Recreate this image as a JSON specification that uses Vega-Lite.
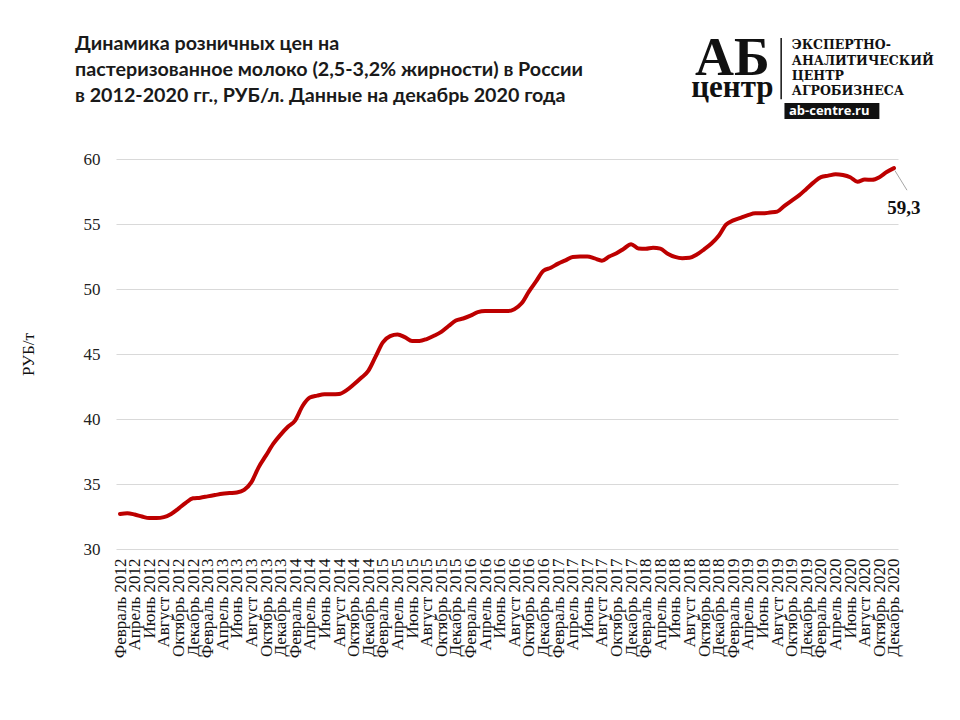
{
  "$schema": "https://vega.github.io/schema/vega-lite/v6.json",
  "autosize": "none",
  "width": 782,
  "height": 390,
  "padding": {"left": 116, "top": 159, "right": 62, "bottom": 171},
  "background": "white",
  "config": {"view": {"stroke": null}},
  "title": {
    "text": ["Динамика розничных цен на", "пастеризованное  молоко (2,5-3,2% жирности) в России", "в 2012-2020 гг., РУБ/л. Данные на декабрь 2020 года"],
    "anchor": "start",
    "frame": "group",
    "dx": -41,
    "offset": -74,
    "font": "Lato",
    "fontSize": 19.7,
    "fontWeight": "bold",
    "lineHeight": 26,
    "color": "#1a1a1a"
  },
  "data": {"values": [
    {"m": "2012-02", "v": 32.7}, {"m": "2012-03", "v": 32.75}, {"m": "2012-04", "v": 32.65}, {"m": "2012-05", "v": 32.5},
    {"m": "2012-06", "v": 32.38}, {"m": "2012-07", "v": 32.38}, {"m": "2012-08", "v": 32.45}, {"m": "2012-09", "v": 32.7},
    {"m": "2012-10", "v": 33.1}, {"m": "2012-11", "v": 33.55}, {"m": "2012-12", "v": 33.9}, {"m": "2013-01", "v": 33.95},
    {"m": "2013-02", "v": 34.05}, {"m": "2013-03", "v": 34.15}, {"m": "2013-04", "v": 34.25}, {"m": "2013-05", "v": 34.3},
    {"m": "2013-06", "v": 34.35}, {"m": "2013-07", "v": 34.55}, {"m": "2013-08", "v": 35.15}, {"m": "2013-09", "v": 36.3},
    {"m": "2013-10", "v": 37.2}, {"m": "2013-11", "v": 38.1}, {"m": "2013-12", "v": 38.8}, {"m": "2014-01", "v": 39.4},
    {"m": "2014-02", "v": 39.9}, {"m": "2014-03", "v": 41.0}, {"m": "2014-04", "v": 41.65}, {"m": "2014-05", "v": 41.8},
    {"m": "2014-06", "v": 41.9}, {"m": "2014-07", "v": 41.9}, {"m": "2014-08", "v": 41.92}, {"m": "2014-09", "v": 42.2},
    {"m": "2014-10", "v": 42.65}, {"m": "2014-11", "v": 43.15}, {"m": "2014-12", "v": 43.7}, {"m": "2015-01", "v": 44.8},
    {"m": "2015-02", "v": 45.9}, {"m": "2015-03", "v": 46.38}, {"m": "2015-04", "v": 46.5}, {"m": "2015-05", "v": 46.3},
    {"m": "2015-06", "v": 46.0}, {"m": "2015-07", "v": 46.0}, {"m": "2015-08", "v": 46.15}, {"m": "2015-09", "v": 46.4},
    {"m": "2015-10", "v": 46.7}, {"m": "2015-11", "v": 47.15}, {"m": "2015-12", "v": 47.58}, {"m": "2016-01", "v": 47.73},
    {"m": "2016-02", "v": 47.95}, {"m": "2016-03", "v": 48.22}, {"m": "2016-04", "v": 48.3}, {"m": "2016-05", "v": 48.3},
    {"m": "2016-06", "v": 48.3}, {"m": "2016-07", "v": 48.3}, {"m": "2016-08", "v": 48.45}, {"m": "2016-09", "v": 48.9},
    {"m": "2016-10", "v": 49.8}, {"m": "2016-11", "v": 50.6}, {"m": "2016-12", "v": 51.4}, {"m": "2017-01", "v": 51.63},
    {"m": "2017-02", "v": 51.95}, {"m": "2017-03", "v": 52.2}, {"m": "2017-04", "v": 52.47}, {"m": "2017-05", "v": 52.5},
    {"m": "2017-06", "v": 52.5}, {"m": "2017-07", "v": 52.35}, {"m": "2017-08", "v": 52.18}, {"m": "2017-09", "v": 52.5},
    {"m": "2017-10", "v": 52.75}, {"m": "2017-11", "v": 53.1}, {"m": "2017-12", "v": 53.45}, {"m": "2018-01", "v": 53.12},
    {"m": "2018-02", "v": 53.1}, {"m": "2018-03", "v": 53.18}, {"m": "2018-04", "v": 53.1}, {"m": "2018-05", "v": 52.72},
    {"m": "2018-06", "v": 52.47}, {"m": "2018-07", "v": 52.37}, {"m": "2018-08", "v": 52.4}, {"m": "2018-09", "v": 52.65},
    {"m": "2018-10", "v": 53.05}, {"m": "2018-11", "v": 53.5}, {"m": "2018-12", "v": 54.1}, {"m": "2019-01", "v": 54.95},
    {"m": "2019-02", "v": 55.28}, {"m": "2019-03", "v": 55.48}, {"m": "2019-04", "v": 55.68}, {"m": "2019-05", "v": 55.82},
    {"m": "2019-06", "v": 55.82}, {"m": "2019-07", "v": 55.88}, {"m": "2019-08", "v": 55.95}, {"m": "2019-09", "v": 56.4},
    {"m": "2019-10", "v": 56.8}, {"m": "2019-11", "v": 57.2}, {"m": "2019-12", "v": 57.7}, {"m": "2020-01", "v": 58.2},
    {"m": "2020-02", "v": 58.6}, {"m": "2020-03", "v": 58.72}, {"m": "2020-04", "v": 58.83}, {"m": "2020-05", "v": 58.77},
    {"m": "2020-06", "v": 58.6}, {"m": "2020-07", "v": 58.25}, {"m": "2020-08", "v": 58.42}, {"m": "2020-09", "v": 58.4},
    {"m": "2020-10", "v": 58.6}, {"m": "2020-11", "v": 59.0}, {"m": "2020-12", "v": 59.3}
  ]},
  "layer": [
    {
      "mark": {"type": "line", "color": "#bd0000", "strokeWidth": 4, "interpolate": "monotone", "strokeCap": "round", "strokeJoin": "round"},
      "encoding": {
        "x": {
          "field": "m", "type": "ordinal", "sort": null,
          "scale": {"type": "point", "padding": 0.55},
          "axis": {
            "title": null, "grid": false, "domain": false, "ticks": false,
            "labelAngle": -90, "labelFont": "Liberation Serif", "labelFontSize": 17, "labelColor": "#111111",
            "labelPadding": 9, "labelOverlap": false, "labelBound": false,
            "labelExpr": "toNumber(slice(datum.value,5,7)) % 2 == 0 ? ['Январь','Февраль','Март','Апрель','Май','Июнь','Июль','Август','Сентябрь','Октябрь','Ноябрь','Декабрь'][toNumber(slice(datum.value,5,7))-1] + ' ' + slice(datum.value,0,4) : ''"
          }
        },
        "y": {
          "field": "v", "type": "quantitative",
          "scale": {"domain": [30, 60], "nice": false, "zero": false},
          "axis": {
            "title": "РУБ/т", "titleFont": "Liberation Serif", "titleFontSize": 17, "titleFontWeight": "normal", "titleColor": "#111111",
            "titlePadding": 46,
            "values": [30, 35, 40, 45, 50, 55, 60],
            "grid": true, "gridColor": "#d9d9d9", "gridWidth": 1,
            "domain": false, "ticks": false,
            "labelFont": "Liberation Serif", "labelFontSize": 17, "labelColor": "#222222", "labelPadding": 16
          }
        }
      }
    },
    {
      "data": {"values": [{"t": "59,3"}]},
      "mark": {"type": "text", "font": "Liberation Serif", "fontSize": 19, "fontWeight": "bold", "color": "#111111", "dx": 10, "align": "center", "baseline": "middle"},
      "encoding": {
        "x": {"datum": "2020-12", "type": "ordinal"},
        "y": {"datum": 56.23, "type": "quantitative"},
        "text": {"field": "t"}
      }
    },
    {
      "data": {"values": [{}]},
      "mark": {"type": "rule", "color": "#a6a6a6", "strokeWidth": 1, "xOffset": 1, "x2Offset": 13},
      "encoding": {
        "x": {"datum": "2020-12", "type": "ordinal"},
        "x2": {"datum": "2020-12"},
        "y": {"datum": 59.1, "type": "quantitative"},
        "y2": {"datum": 57.6}
      }
    },
    {
      "data": {"values": [{"t": "АБ"}]},
      "mark": {"type": "text", "font": "Liberation Serif", "fontSize": 54, "fontWeight": "bold", "color": "#111111", "align": "center", "baseline": "alphabetic", "dx": -1},
      "encoding": {
        "x": {"datum": "2019-02", "type": "ordinal"},
        "y": {"datum": 66.46, "type": "quantitative"},
        "text": {"field": "t"}
      }
    },
    {
      "data": {"values": [{"t": "центр"}]},
      "mark": {"type": "text", "font": "Liberation Serif", "fontSize": 31, "fontWeight": "bold", "color": "#111111", "align": "center", "baseline": "alphabetic", "dx": -1},
      "encoding": {
        "x": {"datum": "2019-02", "type": "ordinal"},
        "y": {"datum": 64.77, "type": "quantitative"},
        "text": {"field": "t"}
      }
    },
    {
      "data": {"values": [{}]},
      "mark": {"type": "rule", "color": "#111111", "strokeWidth": 1.5, "xOffset": 4, "x2Offset": 4},
      "encoding": {
        "x": {"datum": "2019-08", "type": "ordinal"},
        "y": {"datum": 69.3, "type": "quantitative"},
        "y2": {"datum": 64.6}
      }
    },
    {
      "data": {"values": [
        {"t": "ЭКСПЕРТНО-", "y": 68.77},
        {"t": "АНАЛИТИЧЕСКИЙ", "y": 67.54},
        {"t": "ЦЕНТР", "y": 66.38},
        {"t": "АГРОБИЗНЕСА", "y": 65.23}
      ]},
      "mark": {"type": "text", "font": "DejaVu Serif", "fontSize": 12.5, "fontWeight": "bold", "color": "#111111", "align": "left", "baseline": "middle"},
      "encoding": {
        "x": {"datum": "2019-10", "type": "ordinal"},
        "y": {"field": "y", "type": "quantitative"},
        "text": {"field": "t"}
      }
    },
    {
      "data": {"values": [{}]},
      "mark": {"type": "rect", "color": "#111111"},
      "encoding": {
        "x": {"datum": "2019-09", "type": "ordinal"},
        "x2": {"datum": "2020-10"},
        "y": {"datum": 64.31, "type": "quantitative"},
        "y2": {"datum": 63.08}
      }
    },
    {
      "data": {"values": [{"t": "ab-centre.ru"}]},
      "mark": {"type": "text", "font": "Open Sans", "fontSize": 13, "fontWeight": "bold", "color": "white", "align": "center", "baseline": "middle", "dx": 1},
      "encoding": {
        "x": {"datum": "2020-03", "type": "ordinal"},
        "y": {"datum": 63.69, "type": "quantitative"},
        "text": {"field": "t"}
      }
    }
  ]
}
